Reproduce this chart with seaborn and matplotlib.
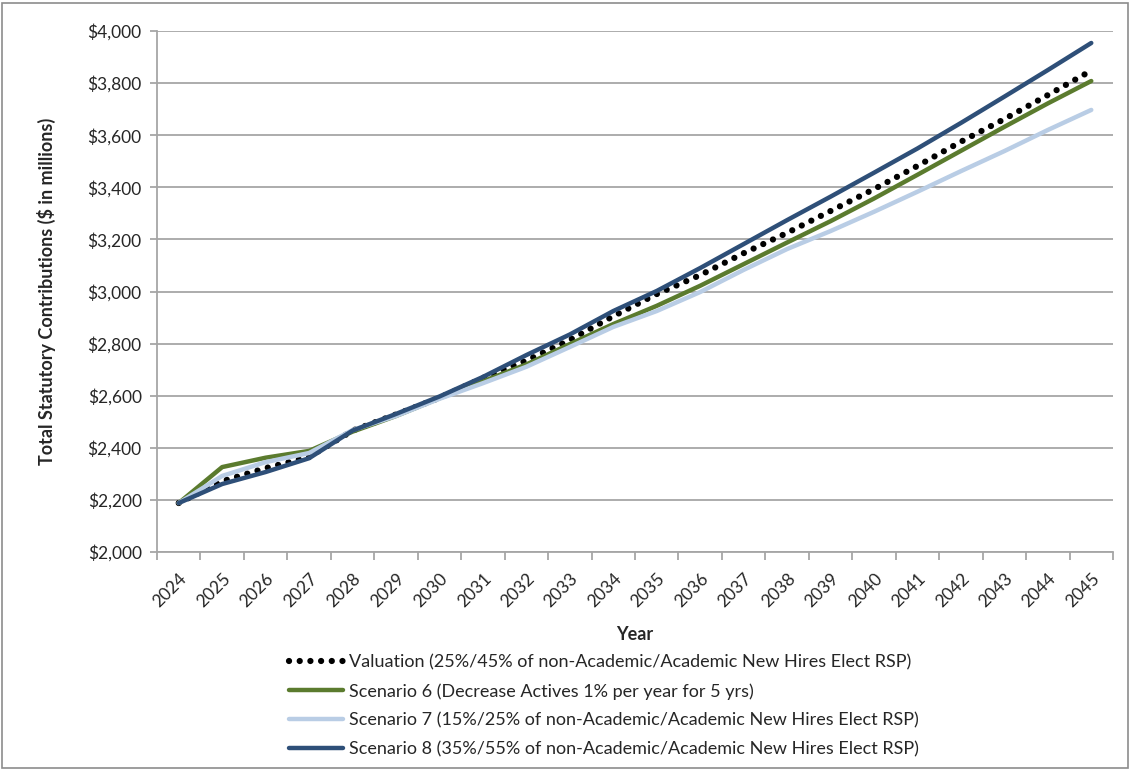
import pandas as pd
import matplotlib
matplotlib.use("Agg")
import matplotlib.pyplot as plt
import seaborn as sns
from matplotlib.ticker import FuncFormatter, FixedLocator
from matplotlib.patches import Rectangle

# chart data
years = list(range(2024, 2046))
valuation = [2188, 2272, 2322, 2365, 2466, 2528, 2592, 2668, 2735, 2814, 2905,
             2990, 3063, 3147, 3225, 3309, 3393, 3482, 3575, 3662, 3754, 3848]
scenario6 = [2188, 2326, 2362, 2388, 2462, 2522, 2590, 2655, 2720, 2798, 2875,
             2945, 3022, 3105, 3188, 3270, 3357, 3448, 3540, 3632, 3722, 3808]
scenario7 = [2188, 2292, 2345, 2380, 2468, 2522, 2588, 2648, 2711, 2787, 2864,
             2925, 2998, 3083, 3163, 3232, 3306, 3383, 3462, 3539, 3620, 3697]
scenario8 = [2188, 2261, 2307, 2360, 2466, 2530, 2597, 2672, 2756, 2835, 2925,
             3002, 3090, 3182, 3274, 3364, 3456, 3549, 3647, 3748, 3850, 3954]

labels = [
    "Valuation (25%/45% of non-Academic/Academic New Hires Elect RSP)",
    "Scenario 6 (Decrease Actives 1% per year for 5 yrs)",
    "Scenario 7 (15%/25% of non-Academic/Academic New Hires Elect RSP)",
    "Scenario 8 (35%/55% of non-Academic/Academic New Hires Elect RSP)",
]
series = [valuation, scenario6, scenario7, scenario8]
colors = ["black", "#5B7B2E", "#B9CDE5", "#2E4F78"]

sns.set_style("white")
plt.rcParams["font.family"] = ["Lato", "DejaVu Sans"]

fig = plt.figure(figsize=(11.31, 7.70), dpi=100)
ax = fig.add_axes([157 / 1131, 1 - 552 / 770, (1113 - 157) / 1131, (552 - 31) / 770])

grid_c = "#A6A6A6"

for name, vals, c in zip(labels, series, colors):
    df = pd.DataFrame({"Year": years, "Value": vals})
    if name.startswith("Valuation"):
        sns.lineplot(data=df, x="Year", y="Value", ax=ax, color=c, lw=4.5,
                     linestyle=(0, (0.01, 1.7)), solid_capstyle="round",
                     dash_capstyle="round", label=name, zorder=3)
    else:
        sns.lineplot(data=df, x="Year", y="Value", ax=ax, color=c, lw=3.2,
                     solid_capstyle="round", label=name, zorder=3)

ax.set_xlim(2023.5, 2045.5)
ax.set_ylim(2000, 4000)
ax.set_yticks(range(2000, 4001, 200))
ax.yaxis.set_major_formatter(FuncFormatter(lambda v, p: f"${v:,.0f}"))
ax.grid(axis="y", color=grid_c, lw=1.3)
ax.set_axisbelow(True)

# category axis: tick marks between years, labels under each year
ax.xaxis.set_major_locator(FixedLocator([y - 0.5 for y in years] + [2045.5]))
ax.xaxis.set_minor_locator(FixedLocator(years))
ax.set_xticklabels([])
ax.set_xticklabels([str(y) for y in years], minor=True, rotation=45,
                   ha="right", va="top", rotation_mode="anchor")
ax.tick_params(axis="x", which="major", length=6, width=1.3, color=grid_c,
               direction="out", bottom=True)
ax.tick_params(axis="x", which="minor", length=0, pad=13, labelsize=12.5)
ax.tick_params(axis="y", length=5, width=1.3, color=grid_c, direction="out",
               left=True, labelsize=12.5, pad=6)

for s in ["top", "right"]:
    ax.spines[s].set_visible(False)
for s in ["left", "bottom"]:
    ax.spines[s].set_color(grid_c)
    ax.spines[s].set_linewidth(1.3)

ax.set_xlabel("Year", fontsize=13, fontweight="bold", labelpad=12)
ax.set_ylabel("Total Statutory Contributions ($ in millions)", fontsize=13,
              fontweight="bold", labelpad=23)

ax.get_legend().remove()
handles, lbls = ax.get_legend_handles_labels()
fig.legend(handles, lbls, loc="upper center", bbox_to_anchor=(604 / 1131, 1 - 647 / 770),
           frameon=False, fontsize=13, handlelength=3.0, handletextpad=0.3,
           labelspacing=0.7, borderaxespad=0)

fig.patches.append(Rectangle((2 / 1131, 2 / 770), 1126 / 1131, 765 / 770,
                             transform=fig.transFigure, fill=False,
                             edgecolor="#8C8C8C", lw=1.2))

fig.savefig("out.png", dpi=100)
